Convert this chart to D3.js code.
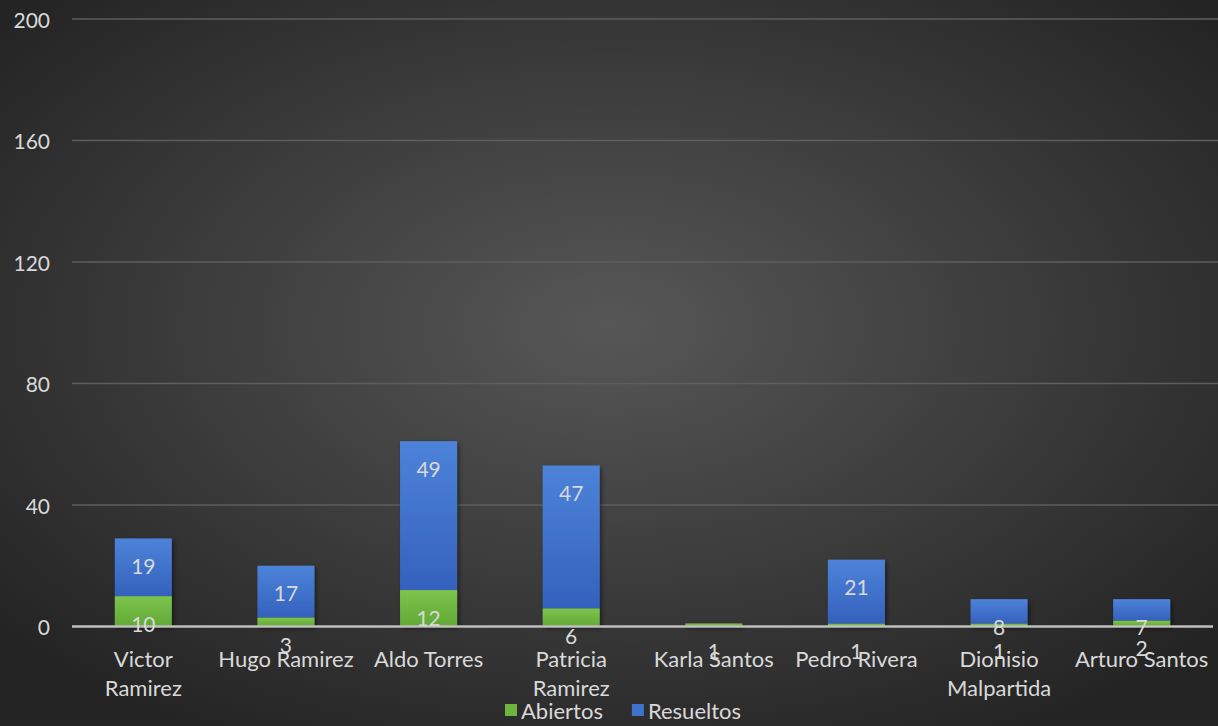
<!DOCTYPE html>
<html><head>
<meta charset="utf-8">
<script src="https://d3js.org/d3.v7.min.js"></script>
<style>
  body { margin: 0; background: #2b2b2b; }
  svg text { font-family: Lato, "Open Sans", sans-serif; fill: #d9d9d9; }
</style>
</head>
<body>
<svg id="chart" width="1218" height="726"></svg>
<script>
// data
const people = ["Victor Ramirez", "Hugo Ramirez", "Aldo Torres", "Patricia Ramirez",
                "Karla Santos", "Pedro Rivera", "Dionisio Malpartida", "Arturo Santos"];
const abiertos = [10, 3, 12, 6, 1, 1, 1, 2];
const resueltos = [19, 17, 49, 47, 0, 21, 8, 7];
const yTicks = [0, 40, 80, 120, 160, 200];
const seriesNames = ["Abiertos", "Resueltos"];

let svg = d3.select("svg#chart");
let width = +svg.attr("width");
let height = +svg.attr("height");
let margin = { top: 19, right: 5, bottom: 100, left: 72 };

// background, lighter in the middle like the Excel style
let defs = svg.append("defs");
let bg = defs.append("radialGradient").attr("id", "bg")
  .attr("cx", "50%").attr("cy", "45%").attr("r", "65%");
bg.append("stop").attr("offset", "0%").attr("stop-color", "#575757");
bg.append("stop").attr("offset", "100%").attr("stop-color", "#242424");

function barGrad(id, top, bottom) {
  let g = defs.append("linearGradient").attr("id", id)
    .attr("x1", 0).attr("y1", 0).attr("x2", 0).attr("y2", 1);
  g.append("stop").attr("offset", "0%").attr("stop-color", top);
  g.append("stop").attr("offset", "100%").attr("stop-color", bottom);
}
barGrad("gGreen", "#7cc54c", "#62a836");
barGrad("gBlue", "#4d83d9", "#3461bd");
let shadow = defs.append("filter").attr("id", "sh").attr("x", "-20%").attr("y", "-20%")
  .attr("width", "140%").attr("height", "140%");
shadow.append("feDropShadow").attr("dx", 2).attr("dy", 2).attr("stdDeviation", 2)
  .attr("flood-color", "#000").attr("flood-opacity", 0.45);

svg.append("rect").attr("width", width).attr("height", height).attr("fill", "url(#bg)");

const x = d3.scaleBand().domain(people)
  .range([margin.left, width - margin.right]).paddingInner(0.6).paddingOuter(0.3);
const y = d3.scaleLinear().domain([0, 200]).range([height - margin.bottom + 0.5, margin.top]);

// gridlines
svg.append("g").selectAll("line").data(yTicks.filter(t => t > 0)).join("line")
  .attr("x1", margin.left).attr("x2", width)
  .attr("y1", d => y(d)).attr("y2", d => y(d))
  .attr("stroke", "#5e5e5e").attr("stroke-width", 1.5);

// y tick labels
svg.append("g").selectAll("text").data(yTicks).join("text")
  .attr("x", 50).attr("y", d => y(d))
  .attr("text-anchor", "end").attr("dominant-baseline", "central")
  .attr("font-size", 21)
  .text(d => d);

// stacked bars
const rows = people.map((p, i) => ({ name: p, Abiertos: abiertos[i], Resueltos: resueltos[i] }));
const stacked = d3.stack().keys(seriesNames)(rows);
const fills = { Abiertos: "url(#gGreen)", Resueltos: "url(#gBlue)" };

let bars = svg.append("g").attr("filter", "url(#sh)");
stacked.forEach(s => {
  bars.selectAll(null).data(s.filter(d => d[1] > d[0])).join("rect")
    .attr("x", d => x(d.data.name))
    .attr("width", x.bandwidth())
    .attr("y", d => y(d[1]))
    .attr("height", d => y(d[0]) - y(d[1]))
    .attr("fill", fills[s.key]);
});

// zero axis line
svg.append("line")
  .attr("x1", margin.left).attr("x2", width - margin.right)
  .attr("y1", y(0)).attr("y2", y(0))
  .attr("stroke", "#bfbfbf").attr("stroke-width", 2.5);

// data labels, a fixed distance below the top of each segment
let labels = svg.append("g");
stacked.forEach(s => {
  labels.selectAll(null).data(s.filter(d => d[1] > d[0])).join("text")
    .attr("x", d => x(d.data.name) + x.bandwidth() / 2)
    .attr("y", d => y(d[1]) + 27)
    .attr("text-anchor", "middle").attr("dominant-baseline", "central")
    .attr("font-size", 21)
    .text(d => d[1] - d[0]);
});

// category labels, wrapped like excel
const wrapAt = ["Victor Ramirez", "Patricia Ramirez", "Dionisio Malpartida"];
let cats = svg.append("g");
people.forEach(p => {
  let lines = wrapAt.includes(p) ? p.split(" ") : [p];
  let t = cats.append("text")
    .attr("x", x(p) + x.bandwidth() / 2).attr("y", y(0) + 31)
    .attr("text-anchor", "middle").attr("dominant-baseline", "central")
    .attr("font-size", 22);
  lines.forEach((l, i) => {
    t.append("tspan").attr("x", x(p) + x.bandwidth() / 2).attr("dy", i === 0 ? 0 : 29).text(l);
  });
});

// legend
const legendColors = ["#6cb63f", "#3f72cc"];
let legend = svg.append("g").attr("transform", "translate(505," + 710 + ")");
let lx = 0;
seriesNames.forEach((n, i) => {
  legend.append("rect").attr("x", lx).attr("y", -6).attr("width", 12).attr("height", 12)
    .attr("fill", legendColors[i]);
  let t = legend.append("text").attr("x", lx + 16).attr("y", 0)
    .attr("dominant-baseline", "central").attr("font-size", 22).text(n);
  lx += 16 + t.node().getComputedTextLength() + 29;
});
</script>
</body>
</html>
